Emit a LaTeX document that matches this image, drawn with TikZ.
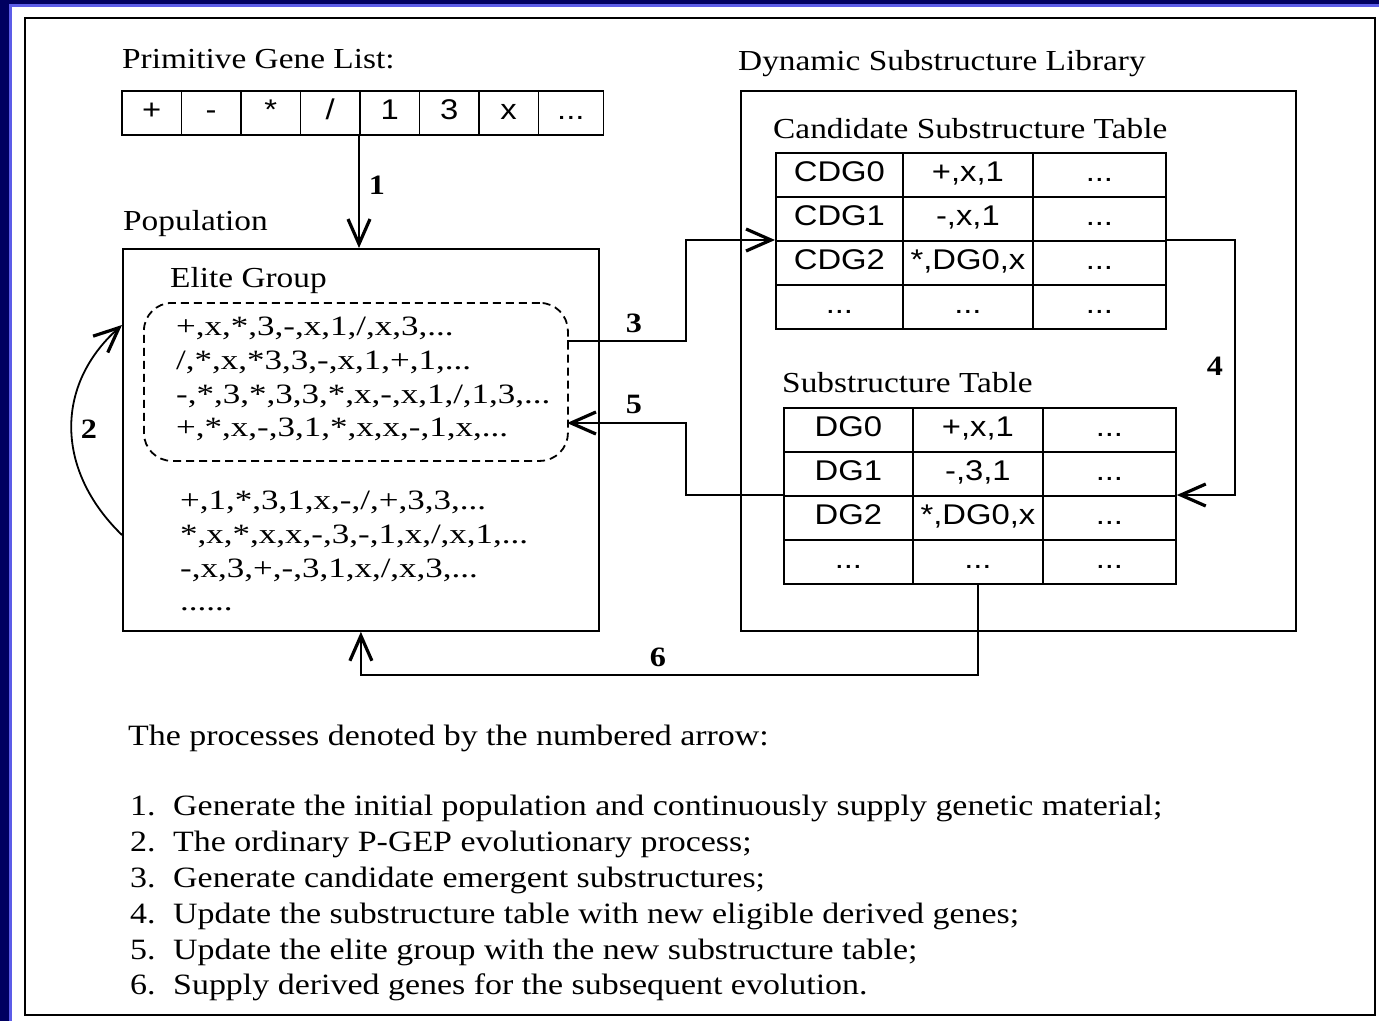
\documentclass[tikz,border=0pt]{standalone}
\usepackage{fontspec}
\setmainfont{Liberation Serif}[FakeStretch=1.15]
\newfontfamily\seqfont{Liberation Serif}[FakeStretch=1.25]
\newfontfamily\arialf{Liberation Sans}[FakeStretch=1.15]
\usetikzlibrary{arrows.meta,calc}
\definecolor{navybg}{RGB}{0,0,96}
\definecolor{lavline}{RGB}{92,92,232}
\tikzset{
  lbl/.style={inner sep=0pt, anchor=base west, font=\fontsize{29}{34}\selectfont},
  seq/.style={inner sep=0pt, anchor=base west, font=\seqfont\fontsize{28}{33}\selectfont},
  listtxt/.style={inner sep=0pt, anchor=base west, font=\fontsize{29.5}{35}\selectfont},
  num/.style={inner sep=0pt, font=\bfseries\fontsize{28}{33}\selectfont},
  boxx/.style={draw, line width=1.8pt, inner sep=0pt, anchor=north west},
  cellw/.style={draw, line width=1.8pt, inner sep=0pt, anchor=north west,
     minimum height=44pt, text height=20pt, text depth=6pt,
     font=\arialf\fontsize{28.5}{33}\selectfont},
  arr/.style={line width=1.8pt, -{Straight Barb[length=25pt,width=22pt,line width=3.2pt]}},
  conn/.style={line width=1.8pt}
}
\begin{document}
\begin{tikzpicture}[x=1pt,y=-1pt]
\useasboundingbox (0,0) rectangle (1379,1021);
% slide background
\fill[navybg] (0,0) rectangle (1379,1021);
\fill[lavline] (9,4) rectangle (1379,1021);
\fill[white] (12,7) rectangle (1379,1021);
\draw[line width=2pt] (25,18) rectangle (1375,1015);

% Primitive gene list
\node[lbl] (tpgl) at (122,68) {Primitive Gene List:};
\node[cellw, minimum width=59.5pt] (g1) at (121,90) {+};
\node[cellw, minimum width=59.5pt] (g2) at (180.5,90) {-};
\node[cellw, minimum width=59.5pt] (g3) at (240,90) {*};
\node[cellw, minimum width=59.5pt] (g4) at (299.5,90) {/};
\node[cellw, minimum width=59.5pt] (g5) at (359,90) {1};
\node[cellw, minimum width=59.5pt] (g6) at (418.5,90) {3};
\node[cellw, minimum width=59.5pt] (g7) at (478,90) {x};
\node[cellw, minimum width=65pt] (g8) at (537.5,90) {...};

% Population
\node[lbl] (tpop) at (123,230) {Population};
\node[boxx, minimum width=476pt, minimum height=382pt] (pop) at (122,248) {};
\node[lbl] (telite) at (170,287) {Elite Group};
\node[boxx, dashed, dash pattern=on 8pt off 5pt, rounded corners=28pt,
      minimum width=424pt, minimum height=158pt] (elite) at (143,302) {};
\node[seq] (e1) at (176,335) {+,x,*,3,-,x,1,/,x,3,...};
\node[seq] (e2) at (176,369) {/,*,x,*3,3,-,x,1,+,1,...};
\node[seq] (e3) at (176,403) {-,*,3,*,3,3,*,x,-,x,1,/,1,3,...};
\node[seq] (e4) at (176,436) {+,*,x,-,3,1,*,x,x,-,1,x,...};
\node[seq] (o1) at (180,509) {+,1,*,3,1,x,-,/,+,3,3,...};
\node[seq] (o2) at (180,543) {*,x,*,x,x,-,3,-,1,x,/,x,1,...};
\node[seq] (o3) at (180,577) {-,x,3,+,-,3,1,x,/,x,3,...};
\node[seq] (o4) at (180,610) {......};

% Dynamic substructure library
\node[lbl] (tdsl) at (738,70) {Dynamic Substructure Library};
\node[boxx, minimum width=555pt, minimum height=540pt] (dsl) at (740,90) {};
\node[lbl] (tcst) at (773,138) {Candidate Substructure Table};
% candidate table
\node[cellw, minimum width=127pt] (c00) at (775,152) {CDG0};
\node[cellw, minimum width=130pt] (c01) at (902,152) {+,x,1};
\node[cellw, minimum width=133pt] (c02) at (1032,152) {...};
\node[cellw, minimum width=127pt] (c10) at (775,196) {CDG1};
\node[cellw, minimum width=130pt] (c11) at (902,196) {-,x,1};
\node[cellw, minimum width=133pt] (c12) at (1032,196) {...};
\node[cellw, minimum width=127pt] (c20) at (775,240) {CDG2};
\node[cellw, minimum width=130pt] (c21) at (902,240) {*,DG0,x};
\node[cellw, minimum width=133pt] (c22) at (1032,240) {...};
\node[cellw, minimum width=127pt] (c30) at (775,284) {...};
\node[cellw, minimum width=130pt] (c31) at (902,284) {...};
\node[cellw, minimum width=133pt] (c32) at (1032,284) {...};

\node[lbl] (tst) at (782,392) {Substructure Table};
% substructure table
\node[cellw, minimum width=129pt] (s00) at (783,407) {DG0};
\node[cellw, minimum width=130pt] (s01) at (912,407) {+,x,1};
\node[cellw, minimum width=133pt] (s02) at (1042,407) {...};
\node[cellw, minimum width=129pt] (s10) at (783,451) {DG1};
\node[cellw, minimum width=130pt] (s11) at (912,451) {-,3,1};
\node[cellw, minimum width=133pt] (s12) at (1042,451) {...};
\node[cellw, minimum width=129pt] (s20) at (783,495) {DG2};
\node[cellw, minimum width=130pt] (s21) at (912,495) {*,DG0,x};
\node[cellw, minimum width=133pt] (s22) at (1042,495) {...};
\node[cellw, minimum width=129pt] (s30) at (783,539) {...};
\node[cellw, minimum width=130pt] (s31) at (912,539) {...};
\node[cellw, minimum width=133pt] (s32) at (1042,539) {...};

% connector helper coordinates
\coordinate (a2s) at (122,535);
\coordinate (a2e) at (122,325);
\coordinate (a3s) at (567,341);
\coordinate (k3) at (686,290);
\coordinate (k4) at (1235,365);
\coordinate (k5) at (686,460);
\coordinate (a5e) at (567,423);
\coordinate (k6) at (660,675);

% arrows
\draw[arr] (g5.south west) -- (g5.south west |- pop.north);
\draw[arr] (a2s) .. controls (55,470) and (55,385) .. (a2e);
\draw[arr] (a3s) -| (k3) |- (c20.north west);
\draw[arr] (c22.north east) -| (k4) |- (s22.north east);
\draw[arr] (s20.north west) -| (k5) |- (a5e);
\draw[arr] (s31.south) |- (k6) -| (pop.south);

% arrow labels
\node[num] (n1) at (377,185) {1};
\node[num] (n2) at (89,429) {2};
\node[num] (n3) at (634,323) {3};
\node[num] (n4) at (1215,366) {4};
\node[num] (n5) at (634,404) {5};
\node[num] (n6) at (658,657) {6};

% explanation text
\node[listtxt] (thead) at (128,745) {The processes denoted by the numbered arrow:};
\node[listtxt] (l1n) at (130,815) {1.};
\node[listtxt] (l1) at (173,815) {Generate the initial population and continuously supply genetic material;};
\node[listtxt] (l2n) at (130,851) {2.};
\node[listtxt] (l2) at (173,851) {The ordinary P-GEP evolutionary process;};
\node[listtxt] (l3n) at (130,887) {3.};
\node[listtxt] (l3) at (173,887) {Generate candidate emergent substructures;};
\node[listtxt] (l4n) at (130,923) {4.};
\node[listtxt] (l4) at (173,923) {Update the substructure table with new eligible derived genes;};
\node[listtxt] (l5n) at (130,959) {5.};
\node[listtxt] (l5) at (173,959) {Update the elite group with the new substructure table;};
\node[listtxt] (l6n) at (130,994) {6.};
\node[listtxt] (l6) at (173,994) {Supply derived genes for the subsequent evolution.};
\end{tikzpicture}
\end{document}
